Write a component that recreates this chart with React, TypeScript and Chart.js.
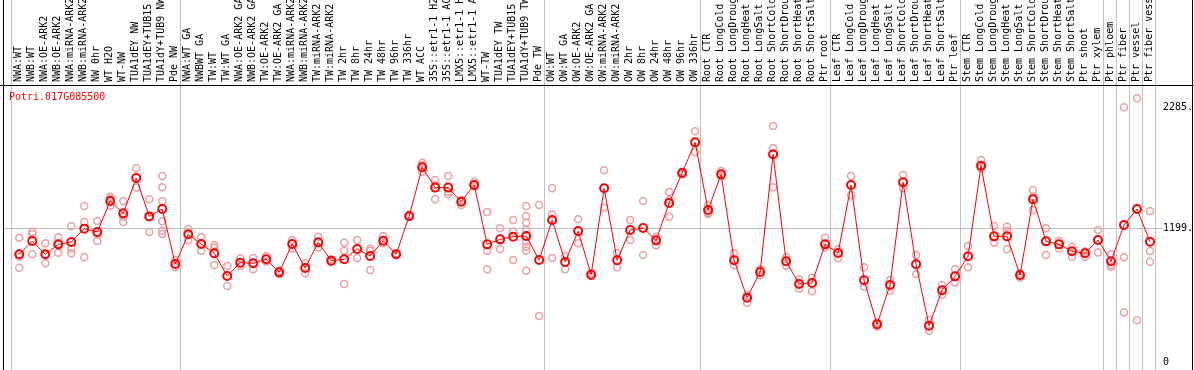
import { useEffect, useRef } from 'react';
import { Chart, registerables } from 'chart.js';

Chart.register(...registerables);

const geneId = 'Potri.017G085500';

const categories: string[] = [
  'NWA:WT', 'NWB:WT', 'NWA:OE-ARK2', 'NWB:OE-ARK2', 'NWA:miRNA-ARK2', 'NWB:miRNA-ARK2',
  'NW 0hr', 'WT H2O', 'WT-NW', 'TUA1dEY NW', 'TUA1dEY+TUB15 NW', 'TUA1dY+TUB9 NW', 'Pde NW',
  'NWA:WT GA', 'NWBWT GA', 'TW:WT', 'TW:WT GA', 'NWA:OE-ARK2 GA', 'NWB:OE-ARK2 GA',
  'TW:OE-ARK2', 'TW:OE-ARK2 GA', 'NWA:miRNA-ARK2', 'NWB:miRNA-ARK2', 'TW:miRNA-ARK2',
  'TW:miRNA-ARK2', 'TW 2hr', 'TW 8hr', 'TW 24hr', 'TW 48hr', 'TW 96hr', 'TW 336hr',
  'WT ACC', '35S::etr1-1 H2O', '35S::etr1-1 ACC', 'LMX5::etr1-1 H2O', 'LMX5::etr1-1 ACC',
  'WT-TW', 'TUA1dEY TW', 'TUA1dEY+TUB15 TW', 'TUA1dY+TUB9 TW', 'Pde TW',
  'OW:WT', 'OW:WT GA', 'OW:OE-ARK2', 'OW:OE-ARK2 GA', 'OW:miRNA-ARK2', 'OW:miRNA-ARK2',
  'OW 2hr', 'OW 8hr', 'OW 24hr', 'OW 48hr', 'OW 96hr', 'OW 336hr',
  'Root CTR', 'Root LongCold', 'Root LongDrought', 'Root LongHeat', 'Root LongSalt',
  'Root ShortCold', 'Root ShortDrought', 'Root ShortHeat', 'Root ShortSalt', 'Ptr root',
  'Leaf CTR', 'Leaf LongCold', 'Leaf LongDrought', 'Leaf LongHeat', 'Leaf LongSalt',
  'Leaf ShortCold', 'Leaf ShortDrought', 'Leaf ShortHeat', 'Leaf ShortSalt', 'Ptr leaf',
  'Stem CTR', 'Stem LongCold', 'Stem LongDrought', 'Stem LongHeat', 'Stem LongSalt',
  'Stem ShortCold', 'Stem ShortDrought', 'Stem ShortHeat', 'Stem ShortSalt', 'Ptr shoot',
  'Ptr xylem', 'Ptr phloem', 'Ptr fiber', 'Ptr vessel', 'Ptr fiber vessel',
];

const means: number[] = [
  966, 1085, 966, 1055, 1076, 1196, 1166, 1444, 1333, 1650, 1306, 1372, 879,
  1145, 1058, 975, 771, 891, 885, 921, 804, 1058, 843, 1073, 909, 921, 1013, 951,
  1088, 966, 1309, 1746, 1564, 1564, 1438, 1588, 1055, 1100, 1124, 1130, 915,
  1274, 897, 1174, 783, 1558, 912, 1184, 1202, 1091, 1426, 1695, 1970,
  1363, 1683, 912, 577, 807, 1863, 903, 700, 709, 1055,
  978, 1588, 733, 338, 691, 1612, 876, 326, 643, 768,
  948, 1761, 1127, 1127, 780, 1459, 1082, 1055, 993, 975, 1094,
  903, 1229, 1372, 1079,
];

const replicates: number[][] = [
  [1115, 944, 846], [1169, 1145, 966], [1064, 966, 885], [1118, 1055, 980],
  [1217, 1019, 975], [1399, 1256, 939], [1265, 1145, 1085], [1483, 1465, 1402],
  [1444, 1303, 1256], [1737, 1564], [1459, 1306, 1166],
  [1668, 1567, 1441, 1262, 1178, 1148], [915, 849],
  [1193, 1091], [1118, 998], [1049, 1028, 870], [861, 682], [930, 861], [933, 831],
  [951, 900], [819, 789], [1094, 1019], [885, 795], [1124, 1028], [921, 897],
  [1070, 998, 700], [1094, 933], [1016, 998, 825], [1130, 1064], [975, 957],
  [1318, 1300], [1788, 1767, 1707], [1632, 1587, 1459], [1668, 1528, 1504],
  [1453, 1408], [1617, 1573], [1345, 998, 831], [1199, 1013], [1274, 1169, 915],
  [1399, 1309, 1250, 1184, 1079, 1034, 998, 819], [1408, 413],
  [1558, 1324, 933], [951, 831], [1280, 1064], [795, 771], [1719, 1384], [975, 849],
  [1274, 1094], [1444, 960], [1124, 1046], [1525, 1453, 1303], [1707, 1683], [2069, 1883],
  [1408, 1339, 1327], [1713, 1668], [975, 867], [598, 532], [831, 777],
  [2117, 1916, 1567], [939, 864], [744, 658], [756, 634], [1115, 1025],
  [1011, 930], [1668, 1495], [849, 676], [353, 317], [736, 640], [1677, 1558],
  [960, 789], [377, 281], [691, 601], [834, 712],
  [1040, 849], [1812, 1737], [1220, 1070], [1214, 1178, 1011], [795, 759],
  [1543, 1483, 1363], [1199, 960], [1085, 1019], [1034, 945], [990, 945], [1184, 981],
  [966, 870, 852], [2284, 939, 445], [2365, 374], [1354, 995, 900],
];

const yTicks: number[] = [0, 1199, 2285];
const gridValue = 1199;
const groupBounds: number[] = [-0.64, 12.36, 40.38, 52.36, 62.38, 72.38, 83.38, 84.37, 85.38, 86.4, 87.37];

const FONT = 'DejaVu Sans Mono';

export default function App() {
  const ref = useRef<HTMLCanvasElement>(null);

  useEffect(() => {
    document.body.style.margin = '0';
    const canvas = ref.current;
    if (!canvas) return;

    const meanPoints = means.map((v, i) => ({ x: i, y: v }));
    const repPoints = replicates.flatMap((r, i) => r.map((v) => ({ x: i, y: v })));

    const framePlugin = {
      id: 'frame',
      beforeDraw(chart: any) {
        const { ctx, width, height } = chart;
        const xs = chart.scales.x;
        const ys = chart.scales.y;
        const top = chart.chartArea.top;
        ctx.save();
        ctx.fillStyle = '#ffffff';
        ctx.fillRect(0, 0, width, height);
        ctx.lineWidth = 1;
        ctx.strokeStyle = '#c0c0c0';
        groupBounds.forEach((b) => {
          const px = Math.round(xs.getPixelForValue(b)) + 0.5;
          ctx.beginPath();
          ctx.moveTo(px, 0);
          ctx.lineTo(px, height);
          ctx.stroke();
        });
        const gy = Math.round(ys.getPixelForValue(gridValue)) + 0.5;
        ctx.beginPath();
        ctx.moveTo(3, gy);
        ctx.lineTo(1162, gy);
        ctx.stroke();

        ctx.strokeStyle = '#000000';
        ctx.beginPath();
        ctx.moveTo(0, top + 0.5);
        ctx.lineTo(width, top + 0.5);
        ctx.moveTo(3.5, 0);
        ctx.lineTo(3.5, height);
        ctx.moveTo(1192.5, 0);
        ctx.lineTo(1192.5, height);
        ctx.stroke();

        ctx.fillStyle = '#ff0000';
        ctx.font = `10px "${FONT}"`;
        ctx.textBaseline = 'middle';
        ctx.textAlign = 'left';
        ctx.fillText(geneId, 9, top + 12);
        ctx.restore();
      },
    };

    const chart = new Chart(canvas, {
      type: 'scatter',
      data: {
        datasets: [
          {
            data: meanPoints,
            showLine: true,
            borderColor: '#ff0000',
            borderWidth: 1,
            pointRadius: 4,
            pointBorderWidth: 2,
            pointBorderColor: '#ff0000',
            pointBackgroundColor: 'rgba(0,0,0,0)',
            order: 0,
          },
          {
            data: repPoints,
            showLine: false,
            pointRadius: 3.5,
            pointBorderWidth: 1.5,
            pointBorderColor: 'rgb(238,158,158)',
            pointBackgroundColor: 'rgba(0,0,0,0)',
            order: 1,
          },
        ],
      },
      options: {
        animation: false,
        responsive: false,
        layout: { padding: 0, autoPadding: false },
        plugins: { legend: { display: false }, tooltip: { enabled: false }, title: { display: false } },
        scales: {
          x: {
            type: 'linear',
            position: 'top',
            min: -1.485,
            max: 87.385,
            grid: { display: false, drawTicks: false },
            border: { display: false },
            afterBuildTicks: (s: any) => {
              s.ticks = categories.map((_, i) => ({ value: i }));
            },
            afterFit: (s: any) => {
              s.height = 85;
              s.paddingLeft = 0;
              s.paddingRight = 0;
            },
            ticks: {
              autoSkip: false,
              minRotation: 90,
              maxRotation: 90,
              padding: 3,
              labelOffset: 11,
              color: '#000000',
              font: { family: FONT, size: 10 },
              callback: (v: any) => categories[Number(v)] ?? '',
            },
          },
          y: {
            type: 'linear',
            position: 'right',
            min: -71.7,
            max: 2484.3,
            grid: { display: false, drawTicks: false },
            border: { display: false },
            afterBuildTicks: (s: any) => {
              s.ticks = yTicks.map((v) => ({ value: v }));
            },
            afterFit: (s: any) => {
              s.width = 39;
              s.paddingTop = 0;
              s.paddingBottom = 0;
            },
            ticks: {
              padding: 8,
              color: '#000000',
              font: { family: FONT, size: 10 },
              callback: (v: any) => (Number(v) === 0 ? '0' : `${v}.`),
            },
          },
        },
      },
      plugins: [framePlugin],
    } as any);

    return () => chart.destroy();
  }, []);

  return (
    <div style={{ position: 'fixed', left: 0, top: 0, width: 1194, height: 370 }}>
      <canvas ref={ref} width={1194} height={370} style={{ display: 'block' }} />
    </div>
  );
}
